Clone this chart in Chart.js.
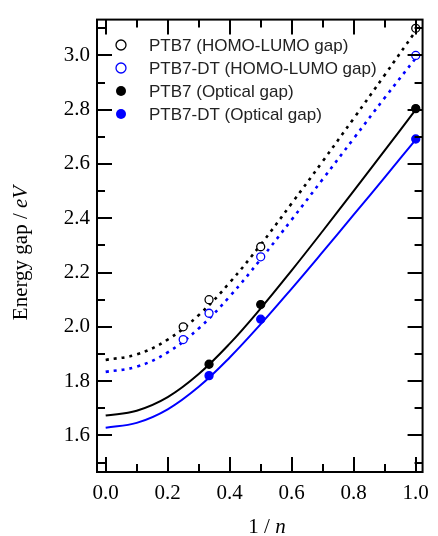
<!DOCTYPE html>
<html>
<head>
<meta charset="utf-8">
<script src="https://cdn.jsdelivr.net/npm/chart.js@4.4.0/dist/chart.umd.min.js"></script>
<style>
  html, body { margin: 0; padding: 0; background: #fff; }
  #wrap { width: 438px; height: 536px; }
</style>
</head>
<body>
<div id="wrap"><canvas id="myChart" width="438" height="536"></canvas></div>
<script>
// measured gaps
const hlX = [0.25, 1/3, 0.5, 1.0];
const ptb7HL = [2.00, 2.10, 2.295, 3.10];
const dtHL = [1.953, 2.05, 2.258, 3.00];
const optX = [1/3, 0.5, 1.0];
const ptb7Opt = [1.862, 2.082, 2.804];
const dtOpt = [1.82, 2.028, 2.692];

// fit curves
const fitX = [0, 0.1, 0.2, 0.3, 0.4, 0.5, 0.6, 0.7, 0.8, 0.9, 1.0];
const ptb7HLFit = [1.878, 1.898, 1.953, 2.043, 2.163, 2.303, 2.455, 2.610, 2.768, 2.928, 3.090];
const dtHLFit = [1.834, 1.853, 1.906, 1.994, 2.112, 2.249, 2.395, 2.544, 2.694, 2.844, 2.990];
const ptb7OptFit = [1.673, 1.691, 1.741, 1.826, 1.938, 2.068, 2.208, 2.353, 2.501, 2.650, 2.800];
const dtOptFit = [1.628, 1.646, 1.696, 1.779, 1.887, 2.010, 2.141, 2.276, 2.413, 2.551, 2.690];

const seriesNames = ['PTB7 (HOMO-LUMO gap)', 'PTB7-DT (HOMO-LUMO gap)', 'PTB7 (Optical gap)', 'PTB7-DT (Optical gap)'];

const BLUE = '#0000ff';
const BLACK = '#000000';

const xy = (xs, ys) => xs.map((v, i) => ({x: v, y: ys[i]}));
const isMajor = v => Math.round(v * 10) % 2 === 0;

const curve = (ys, color, dotted) => ({
  type: 'line',
  data: xy(fitX, ys),
  borderColor: color,
  borderWidth: dotted ? 2.6 : 2,
  borderDash: dotted ? [3, 5] : [],
  pointRadius: 0,
  fill: false,
  tension: 0.4
});

const pts = (xs, ys, color, open) => ({
  type: 'scatter',
  data: xy(xs, ys),
  borderColor: color,
  backgroundColor: open ? '#ffffff' : color,
  borderWidth: 1.3,
  pointRadius: 4
});

const framePlugin = {
  id: 'frame',
  afterDraw(chart) {
    const {ctx, chartArea: a, scales: {x, y}} = chart;
    ctx.save();
    ctx.strokeStyle = '#000';
    ctx.lineWidth = 2;
    ctx.strokeRect(a.left, a.top, a.right - a.left, a.bottom - a.top);
    ctx.beginPath();
    x.ticks.forEach(t => {
      const px = Math.round(x.getPixelForValue(t.value));
      const len = isMajor(t.value) ? 15 : 8;
      ctx.moveTo(px, a.bottom); ctx.lineTo(px, a.bottom - len);
      ctx.moveTo(px, a.top); ctx.lineTo(px, a.top + len);
    });
    y.ticks.forEach(t => {
      const py = Math.round(y.getPixelForValue(t.value));
      const len = isMajor(t.value) ? 15 : 8;
      ctx.moveTo(a.left, py); ctx.lineTo(a.left + len, py);
      ctx.moveTo(a.right, py); ctx.lineTo(a.right - len, py);
    });
    ctx.stroke();

    // legend
    const markers = [[BLACK, true], [BLUE, true], [BLACK, false], [BLUE, false]];
    const rows = [45, 68, 91, 114];
    ctx.font = '17px "Liberation Sans", Arial, sans-serif';
    ctx.textBaseline = 'middle';
    ctx.textAlign = 'left';
    seriesNames.forEach((name, i) => {
      const [c, open] = markers[i];
      ctx.beginPath();
      ctx.arc(121, rows[i], 5, 0, Math.PI * 2);
      if (open) {
        ctx.fillStyle = '#fff'; ctx.fill();
        ctx.lineWidth = 1.3; ctx.strokeStyle = c; ctx.stroke();
      } else {
        ctx.fillStyle = c; ctx.fill();
      }
      ctx.fillStyle = '#222';
      ctx.fillText(name, 149, rows[i] + 1);
    });

    // axis titles (with italic parts)
    const serif = '"Liberation Serif", "Times New Roman", serif';
    const norm = '21px ' + serif, ital = 'italic 21px ' + serif;
    ctx.fillStyle = '#000';
    ctx.textBaseline = 'middle';
    ctx.font = norm;
    let w1 = ctx.measureText('1 / ').width;
    ctx.font = ital;
    let w2 = ctx.measureText('n').width;
    let sx = 267 - (w1 + w2) / 2;
    ctx.font = norm; ctx.fillText('1 / ', sx, 527);
    ctx.font = ital; ctx.fillText('n', sx + w1, 527);

    ctx.translate(21, 253);
    ctx.rotate(-Math.PI / 2);
    ctx.font = norm;
    w1 = ctx.measureText('Energy gap / ').width;
    ctx.font = ital;
    w2 = ctx.measureText('eV').width;
    sx = -(w1 + w2) / 2;
    ctx.font = norm; ctx.fillText('Energy gap / ', sx, 0);
    ctx.font = ital; ctx.fillText('eV', sx + w1, 0);
    ctx.restore();
  }
};

const tickFont = {family: '"Liberation Serif", "Times New Roman", serif', size: 21};

var ctx = document.getElementById('myChart');
var myChart = new Chart(ctx, {
  type: 'scatter',
  data: {
    datasets: [
      pts(hlX, ptb7HL, BLACK, true),
      pts(hlX, dtHL, BLUE, true),
      pts(optX, ptb7Opt, BLACK, false),
      pts(optX, dtOpt, BLUE, false),
      curve(ptb7HLFit, BLACK, true),
      curve(dtHLFit, BLUE, true),
      curve(ptb7OptFit, BLACK, false),
      curve(dtOptFit, BLUE, false)
    ]
  },
  options: {
    responsive: false,
    animation: false,
    layout: {padding: {top: 13, right: 6, left: 0, bottom: 0}},
    plugins: {legend: {display: false}, tooltip: {enabled: false}},
    scales: {
      x: {
        type: 'linear',
        min: -0.028, max: 1.022,
        grid: {display: false, drawTicks: false},
        border: {display: false},
        ticks: {
          stepSize: 0.1, includeBounds: false, padding: 9,
          color: '#000', font: tickFont, maxRotation: 0, autoSkip: false,
          callback: v => isMajor(v) ? v.toFixed(1) : ''
        },
        afterFit: s => { s.height = 64; }
      },
      y: {
        type: 'linear',
        min: 1.465, max: 3.132,
        grid: {display: false, drawTicks: false},
        border: {display: false},
        ticks: {
          stepSize: 0.1, includeBounds: false, padding: 7,
          color: '#000', font: tickFont, autoSkip: false,
          callback: v => isMajor(v) ? v.toFixed(1) : ''
        },
        afterFit: s => { s.width = 97; }
      }
    }
  },
  plugins: [framePlugin]
});
</script>
</body>
</html>
